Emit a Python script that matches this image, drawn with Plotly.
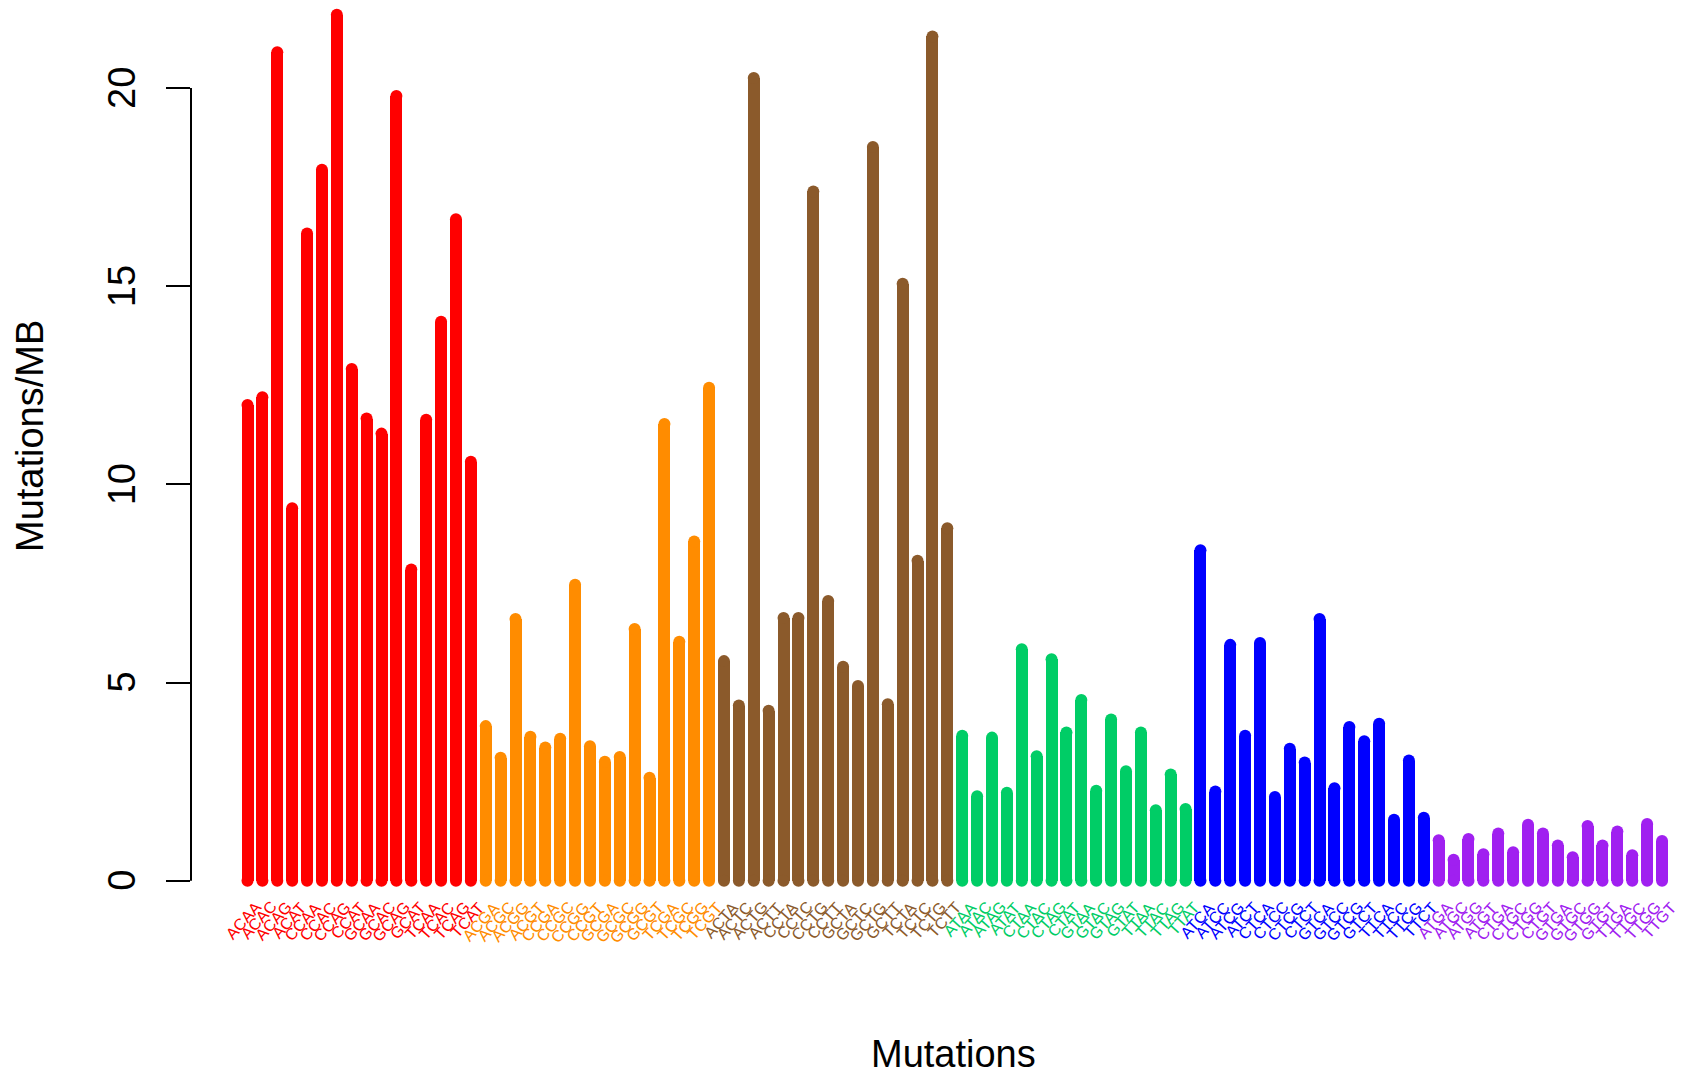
import plotly.graph_objects as go

# Trinucleotide substitution classes, six groups of 16 contexts
bases = ["A", "C", "G", "T"]
substitutions = [("C", "A"), ("C", "G"), ("C", "T"), ("T", "A"), ("T", "C"), ("T", "G")]
group_colors = ["#FF0000", "#FF8C00", "#8B5A2B", "#00CD66", "#0000FF", "#A020F0"]

# Mutations per megabase for each context, per substitution group
ca_values = [12.0, 12.2, 20.9, 9.4, 16.33, 17.94, 21.85, 12.91,
             11.66, 11.28, 19.8, 7.85, 11.63, 14.1, 16.69, 10.57]
cg_values = [3.9, 3.1, 6.6, 3.63, 3.36, 3.58, 7.47, 3.39,
             3.0, 3.12, 6.35, 2.6, 11.52, 6.03, 8.56, 12.44]
ct_values = [5.54, 4.42, 20.25, 4.29, 6.63, 6.63, 17.39, 7.06,
             5.4, 4.91, 18.51, 4.45, 15.06, 8.07, 21.3, 8.89]
ta_values = [3.66, 2.13, 3.61, 2.22, 5.84, 3.14, 5.59, 3.74,
             4.56, 2.27, 4.07, 2.76, 3.74, 1.78, 2.68, 1.81]
tc_values = [8.34, 2.25, 5.95, 3.66, 6.0, 2.11, 3.33, 2.98,
             6.6, 2.33, 3.88, 3.52, 3.96, 1.54, 3.03, 1.59]
tg_values = [1.02, 0.53, 1.05, 0.67, 1.19, 0.72, 1.41, 1.19,
             0.89, 0.59, 1.38, 0.89, 1.24, 0.64, 1.43, 1.0]
group_values = [ca_values, cg_values, ct_values, ta_values, tc_values, tg_values]

y_ticks = [0, 5, 10, 15, 20]

# Pixel geometry of the plotting region
W, H = 1690, 1077
left_px, right_px = 191, 1670
top_px, bottom_px = 0, 900
x0_px, dx_px = 247.5, 14.89          # first bar centre, bar pitch
y0_px, dy_px = 880.7, 39.635         # y=0 position, pixels per unit
bar_px = 12

x_range = [-(x0_px - left_px) / dx_px, (right_px - x0_px) / dx_px]
y_range = [-(bottom_px - y0_px) / dy_px, (y0_px - top_px) / dy_px]

font_family = "Liberation Sans, Arial, sans-serif"

fig = go.Figure()
annotations = []

for g, ((ref, alt), color, values) in enumerate(zip(substitutions, group_colors, group_values)):
    labels = [f"{five}{ref}{alt}{three}" for five in bases for three in bases]
    xs = [g * 16 + k for k in range(16)]
    fig.add_trace(go.Bar(
        x=xs, y=values, base=0, width=bar_px / dx_px,
        marker=dict(color=color, line=dict(width=0)),
        showlegend=False, hoverinfo="skip",
    ))
    # rounded line ends at both extremities of each bar
    fig.add_trace(go.Scatter(
        x=xs + xs, y=values + [0] * 16, mode="markers",
        marker=dict(symbol="circle", size=bar_px, color=color, line=dict(width=0)),
        showlegend=False, hoverinfo="skip",
    ))
    for x, lab in zip(xs, labels):
        annotations.append(dict(
            x=x, y=0, xref="x", yref="paper", text=lab, showarrow=False,
            textangle=-48, xanchor="right", yanchor="top",
            xshift=20, yshift=4,
            font=dict(family=font_family, size=16, color=color),
        ))

# y tick labels, rotated like the axis
for v in y_ticks:
    annotations.append(dict(
        x=0, xref="paper", y=v, yref="y", text=str(v), showarrow=False,
        textangle=-90, xanchor="center", yanchor="middle", xshift=122 - left_px,
        font=dict(family=font_family, size=38, color="black"),
    ))

# axis titles
annotations.append(dict(
    x=0, xref="paper", y=(bottom_px - 436) / (bottom_px - top_px), yref="paper",
    text="Mutations/MB", showarrow=False, textangle=-90,
    xanchor="center", yanchor="middle", xshift=30 - left_px,
    font=dict(family=font_family, size=38, color="black"),
))
annotations.append(dict(
    x=(953 - left_px) / (right_px - left_px), xref="paper",
    y=(bottom_px - 1054) / (bottom_px - top_px), yref="paper",
    text="Mutations", showarrow=False, xanchor="center", yanchor="middle",
    font=dict(family=font_family, size=38, color="black"),
))

# y axis line spanning only the tick range
fig.add_shape(type="line", xref="paper", yref="y", x0=0, x1=0, y0=0, y1=20,
              line=dict(color="black", width=2))

fig.update_layout(
    width=W, height=H,
    margin=dict(l=left_px, r=W - right_px, t=top_px, b=H - bottom_px),
    paper_bgcolor="white", plot_bgcolor="white",
    bargap=0, barmode="overlay",
    annotations=annotations,
    xaxis=dict(range=x_range, showgrid=False, zeroline=False, showline=False,
               showticklabels=False, ticks=""),
    yaxis=dict(range=y_range, showgrid=False, zeroline=False, showline=False,
               tickmode="array", tickvals=y_ticks, ticks="outside", ticklen=24,
               tickwidth=2, tickcolor="black", showticklabels=False),
)

fig.write_html("out.html")
